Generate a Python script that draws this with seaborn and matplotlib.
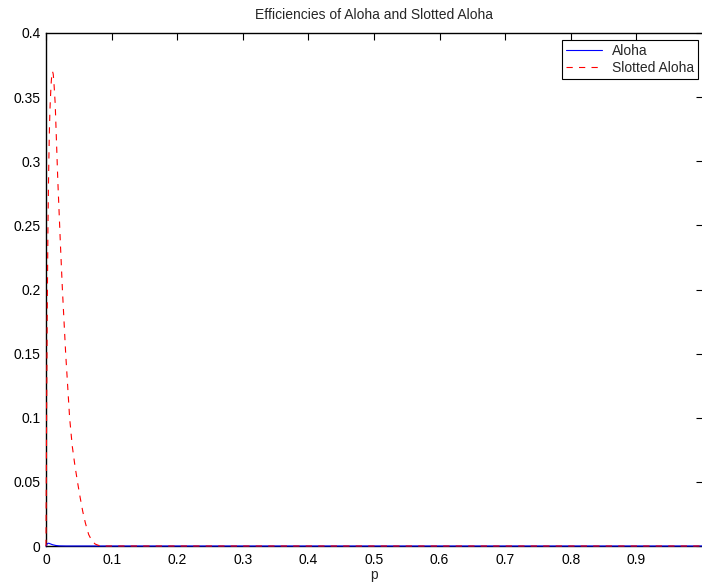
import matplotlib
matplotlib.use('Agg')
import matplotlib.pyplot as plt
import seaborn as sns
import pandas as pd

# data
p_slotted = [0, 0.001, 0.002, 0.003, 0.004, 0.005, 0.006, 0.007, 0.008, 0.009,
             0.010, 0.011, 0.012, 0.014, 0.016, 0.018, 0.020, 0.022, 0.025, 0.028,
             0.030, 0.033, 0.036, 0.040, 0.044, 0.048, 0.052, 0.056, 0.060, 0.065,
             0.070, 0.075, 0.080, 0.085, 0.090, 0.2, 0.3, 0.4, 0.5, 0.6, 0.7, 0.8,
             0.9, 1.0]
slotted = [0, 0.11, 0.19, 0.25, 0.29, 0.32, 0.34, 0.352, 0.362, 0.368,
           0.370, 0.368, 0.362, 0.345, 0.315, 0.285, 0.26, 0.235, 0.20, 0.17,
           0.15, 0.125, 0.10, 0.078, 0.063, 0.050, 0.038, 0.027, 0.018, 0.009,
           0.004, 0.0015, 0.0005, 0.0001, 0, 0, 0, 0, 0, 0, 0, 0,
           0, 0]

p_aloha = [0, 0.002, 0.004, 0.006, 0.010, 0.015, 0.020, 0.030, 0.1, 0.2, 0.3, 0.4,
           0.5, 0.6, 0.7, 0.8, 0.9, 1.0]
aloha = [0, 0.0018, 0.0022, 0.0018, 0.001, 0.0004, 0.0001, 0, 0, 0, 0, 0,
         0, 0, 0, 0, 0, 0]

x_ticks = [0, 0.1, 0.2, 0.3, 0.4, 0.5, 0.6, 0.7, 0.8, 0.9]
x_labels = ['0', '0.1', '0.2', '0.3', '0.4', '0.5', '0.6', '0.7', '0.8', '0.9']
y_ticks = [0, 0.05, 0.1, 0.15, 0.2, 0.25, 0.3, 0.35, 0.4]
y_labels = ['0', '0.05', '0.1', '0.15', '0.2', '0.25', '0.3', '0.35', '0.4']

df_aloha = pd.DataFrame({'p': p_aloha, 'eff': aloha})
df_slotted = pd.DataFrame({'p': p_slotted, 'eff': slotted})

sns.set_style('white')
plt.rcParams['font.family'] = ['Liberation Sans', 'DejaVu Sans']
plt.rcParams['font.size'] = 10
plt.rcParams['lines.scale_dashes'] = False

fig = plt.figure(figsize=(7.02, 5.85), dpi=100)
ax = fig.add_axes([46 / 702, 39 / 585, 656 / 702, 513 / 585])

sns.lineplot(data=df_aloha, x='p', y='eff', ax=ax, color='#0000ff',
             linewidth=0.8, label='Aloha', zorder=3, clip_on=False)
sns.lineplot(data=df_slotted, x='p', y='eff', ax=ax, color='#ff0000',
             linewidth=0.8, linestyle=(0, (4.5, 4.5)), label='Slotted Aloha',
             zorder=3, clip_on=False)

ax.set_xlim(0, 1)
ax.set_ylim(0, 0.4)
ax.set_xticks(x_ticks)
ax.set_xticklabels(x_labels)
ax.set_yticks(y_ticks)
ax.set_yticklabels(y_labels)

ax.tick_params(axis='both', direction='in', top=True, right=True,
               colors='black', labelsize=10, width=0.8)
ax.tick_params(axis='x', length=5, pad=5)
ax.tick_params(axis='y', length=4, pad=4)
for s in ax.spines.values():
    s.set_visible(True)
    s.set_color('black')
    s.set_linewidth(1.0)
# right border falls just outside the picture in the reference
ax.spines['right'].set_visible(False)

ax.set_title('Efficiencies of Aloha and Slotted Aloha', fontsize=10, pad=10)
ax.set_xlabel('p', fontsize=10, labelpad=1)
ax.set_ylabel('')

leg = ax.legend(loc='upper right', bbox_to_anchor=(698 / 702, 1 - 40 / 585),
                bbox_transform=fig.transFigure, borderaxespad=0, fancybox=False,
                framealpha=1, edgecolor='black', fontsize=10, handlelength=2.6,
                handletextpad=0.7, borderpad=0.3, labelspacing=0.2)
leg.get_frame().set_linewidth(0.8)
leg.set_zorder(5)

fig.savefig('out.png', dpi=100)
